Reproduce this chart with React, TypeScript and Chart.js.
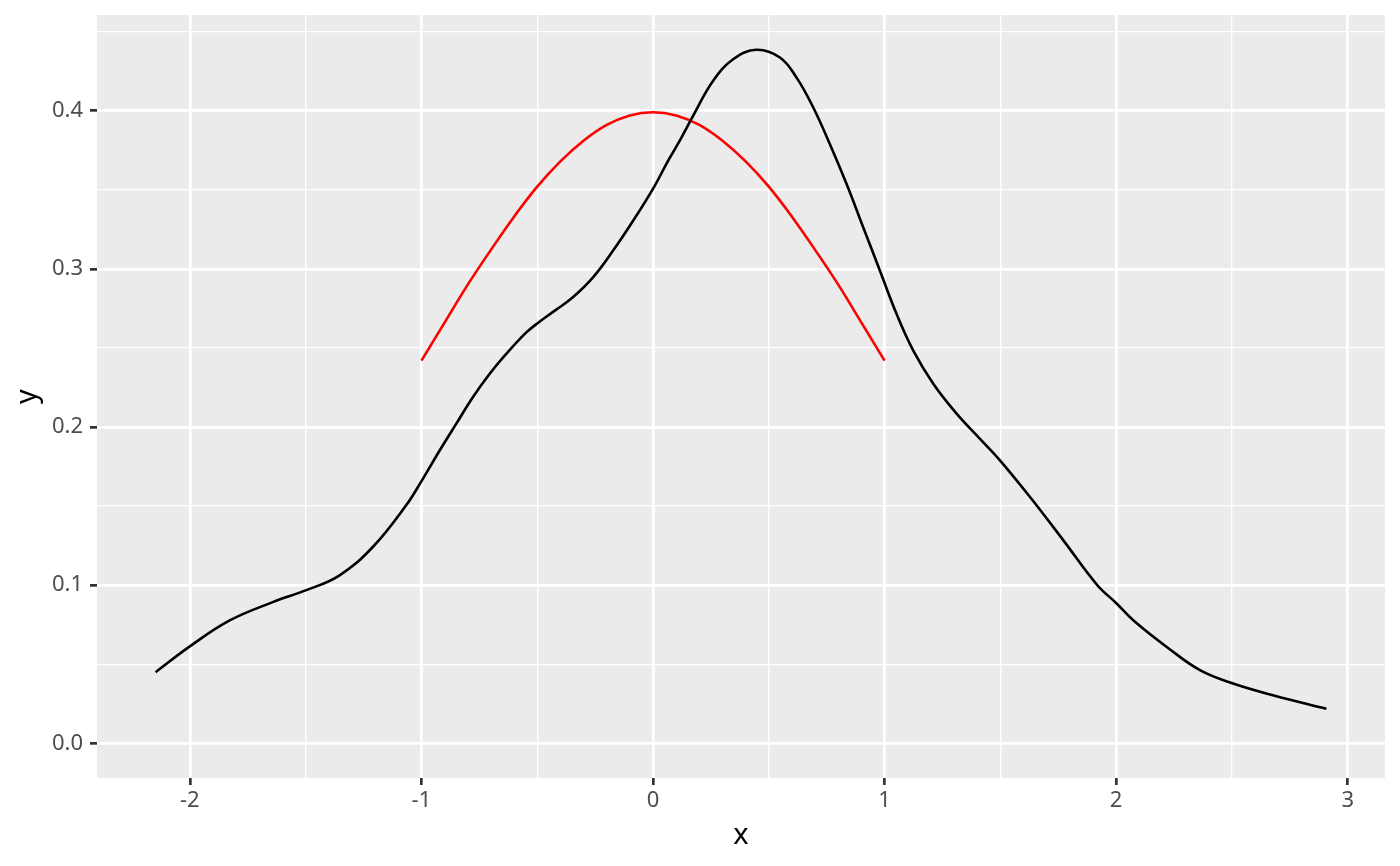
import React, { useEffect, useRef } from 'react';
import { Chart, registerables } from 'chart.js';

Chart.register(...registerables);

// Kernel density estimate (black curve)
const densityX = [
  -2.148, -2.0, -1.828, -1.642, -1.5, -1.355, -1.211, -1.066, -0.999, -0.922, -0.85, -0.778,
  -0.706, -0.634, -0.547, -0.497, -0.418, -0.346, -0.259, -0.173, -0.086, 0.003, 0.065, 0.115,
  0.173, 0.259, 0.346, 0.447, 0.548, 0.62, 0.692, 0.764, 0.836, 0.908, 0.98, 1.052, 1.124,
  1.211, 1.312, 1.412, 1.499, 1.629, 1.773, 1.917, 2.003, 2.075, 2.22, 2.364, 2.508, 2.681,
  2.908,
];
const densityY = [
  0.045, 0.0613, 0.0777, 0.0893, 0.0967, 0.1061, 0.124, 0.1505, 0.166, 0.185, 0.202, 0.2188,
  0.2335, 0.2462, 0.2598, 0.2658, 0.2742, 0.282, 0.2946, 0.3114, 0.3304, 0.3514, 0.3683, 0.3809,
  0.3967, 0.4188, 0.4325, 0.4385, 0.4336, 0.4209, 0.402, 0.3788, 0.3536, 0.3262, 0.2988, 0.2714, 0.2483,
  0.2272, 0.2083, 0.1925, 0.1788, 0.1556, 0.1282, 0.1003, 0.0883, 0.0777, 0.0608, 0.0461, 0.0377, 0.0303,
  0.0219,
];

// Normal density (red curve)
const normalX = [
  -1.0, -0.9, -0.8, -0.7, -0.6, -0.5, -0.4, -0.3, -0.2, -0.1, 0.0,
  0.1, 0.2, 0.3, 0.4, 0.5, 0.6, 0.7, 0.8, 0.9, 1.0,
];
const normalY = [
  0.242, 0.266, 0.29, 0.312, 0.333, 0.352, 0.368, 0.381, 0.391, 0.397, 0.399,
  0.397, 0.391, 0.381, 0.368, 0.352, 0.333, 0.312, 0.29, 0.266, 0.242,
];

const xTicks = [-2, -1.5, -1, -0.5, 0, 0.5, 1, 1.5, 2, 2.5, 3];
const yTicks = [0, 0.05, 0.1, 0.15, 0.2, 0.25, 0.3, 0.35, 0.4, 0.45];
const xRange = [-2.401, 3.161];
const yRange = [-0.0219, 0.4605];

const xIsMajor = (v: number) => Math.abs(v - Math.round(v)) < 1e-6;
const yIsMajor = (v: number) => Math.abs(v * 10 - Math.round(v * 10)) < 1e-6;

const panelBg = {
  id: 'panelBg',
  beforeDraw(chart: any) {
    const { ctx, chartArea: a } = chart;
    ctx.save();
    ctx.fillStyle = '#EBEBEB';
    ctx.fillRect(a.left, a.top, a.right - a.left, a.bottom - a.top);
    ctx.restore();
  },
};

const FONT = "'Noto Sans', 'DejaVu Sans', sans-serif";

export default function App() {
  const ref = useRef<HTMLCanvasElement>(null);

  useEffect(() => {
    if (!ref.current) return;
    const toPts = (xs: number[], ys: number[]) => xs.map((x, i) => ({ x, y: ys[i] }));
    const chart = new Chart(ref.current, {
      type: 'line',
      data: {
        datasets: [
          {
            data: toPts(densityX, densityY),
            borderColor: '#000000',
            borderWidth: 2.6,
            pointRadius: 0,
            fill: false,
            tension: 0.4,
          },
          {
            data: toPts(normalX, normalY),
            borderColor: '#FF0000',
            borderWidth: 2.6,
            pointRadius: 0,
            fill: false,
            tension: 0.4,
          },
        ],
      },
      options: {
        responsive: false,
        animation: false,
        events: [],
        layout: { padding: { top: 15, right: 15, left: 0, bottom: 0 } },
        plugins: {
          legend: { display: false },
          tooltip: { enabled: false },
          title: { display: false },
        },
        scales: {
          x: {
            type: 'linear',
            min: xRange[0],
            max: xRange[1],
            afterBuildTicks: (s: any) => {
              s.ticks = xTicks.map((v) => ({ value: v }));
            },
            afterFit: (s: any) => {
              s.height = 88;
              s.paddingLeft = 0;
              s.paddingRight = 0;
              s.paddingTop = 0;
              s.paddingBottom = 0;
            },
            border: { display: false },
            grid: {
              color: '#FFFFFF',
              lineWidth: (c: any) => (xIsMajor(c.tick.value) ? 2.7 : 1.35),
              tickColor: (c: any) => (xIsMajor(c.tick.value) ? '#333333' : 'rgba(0,0,0,0)'),
              tickWidth: 2.7,
              tickLength: 7,
              drawTicks: true,
            },
            ticks: {
              autoSkip: false,
              maxRotation: 0,
              padding: 3,
              color: '#4D4D4D',
              font: { family: FONT, size: 22 },
              callback: (v: any) => (xIsMajor(Number(v)) ? String(Math.round(Number(v))) : ''),
            },
            title: {
              display: true,
              text: 'x',
              color: '#000000',
              font: { family: FONT, size: 29, lineHeight: 1 },
              padding: { top: 0, bottom: 16 },
            },
          },
          y: {
            type: 'linear',
            min: yRange[0],
            max: yRange[1],
            afterBuildTicks: (s: any) => {
              s.ticks = yTicks.map((v) => ({ value: v }));
            },
            afterFit: (s: any) => {
              s.width = 97;
              s.paddingTop = 0;
              s.paddingBottom = 0;
              s.paddingLeft = 0;
              s.paddingRight = 0;
            },
            border: { display: false },
            grid: {
              color: '#FFFFFF',
              lineWidth: (c: any) => (yIsMajor(c.tick.value) ? 2.7 : 1.35),
              tickColor: (c: any) => (yIsMajor(c.tick.value) ? '#333333' : 'rgba(0,0,0,0)'),
              tickWidth: 2.7,
              tickLength: 7,
              drawTicks: true,
            },
            ticks: {
              autoSkip: false,
              padding: 7,
              color: '#4D4D4D',
              font: { family: FONT, size: 22 },
              callback: (v: any) => (yIsMajor(Number(v)) ? Number(v).toFixed(1) : ''),
            },
            title: {
              display: true,
              text: 'y',
              color: '#000000',
              font: { family: FONT, size: 29, lineHeight: 1 },
              padding: { top: 13, bottom: 0 },
            },
          },
        },
      },
      plugins: [panelBg],
    } as any);
    return () => chart.destroy();
  }, []);

  return (
    <div style={{ position: 'fixed', left: 0, top: 0, width: 1400, height: 866, background: '#FFFFFF' }}>
      <canvas ref={ref} width={1400} height={866} style={{ display: 'block', width: 1400, height: 866 }} />
    </div>
  );
}
